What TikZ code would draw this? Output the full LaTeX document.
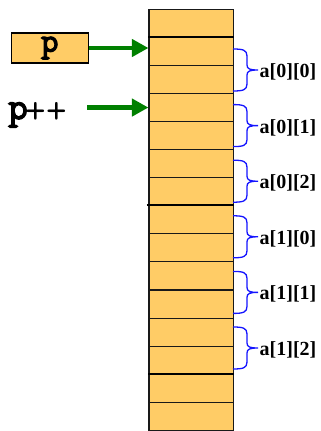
\documentclass[tikz,border=0pt]{standalone}
\usepackage{fontspec}
\setmainfont{Liberation Serif}
\newfontfamily\codefont{Latin Modern Mono}[AutoFakeBold=3.5]
\usetikzlibrary{arrows.meta}
\definecolor{cellfill}{RGB}{255,204,102}
\definecolor{ptrgreen}{RGB}{0,128,0}
\definecolor{bracecol}{RGB}{20,20,255}
\tikzset{
  cellbox/.style={draw=black!90, fill=cellfill, line width=1.1pt, inner sep=0pt,
    minimum width=84.3pt, minimum height=28.07pt},
  divider/.style={draw=black, line width=2.2pt},
  ptr/.style={draw=ptrgreen, line width=4.5pt,
    -{Triangle[length=16.5pt,width=17pt,fill=ptrgreen]}},
  bracestroke/.style={draw=bracecol, line width=1.3pt},
  lbl/.style={inner sep=0pt, font=\bfseries\fontsize{20}{20}\selectfont},
  code/.style={font=\codefont\bfseries\fontsize{34}{34}\selectfont},
}
% right curly brace from y0 to y1 against the column edge
\newcommand\drawrbrace[2]{%
  \pgfmathsetmacro\bm{(#1+#2)/2}%
  \draw[bracestroke] (233,#1) .. controls (243,#1) and (247,#1+1) .. (247,#1+7)
    -- (247,\bm-5) .. controls (247,\bm-1) and (250,\bm) .. (258,\bm)
    .. controls (250,\bm) and (247,\bm+1) .. (247,\bm+5)
    -- (247,#2-7) .. controls (247,#2-1) and (243,#2) .. (233,#2);}
\begin{document}
\begin{tikzpicture}[x=1pt,y=-1pt]
\useasboundingbox (0,0) rectangle (321,431);
% memory column
\foreach \k in {0,...,14}
  \node[cellbox] (c\k) at (191.15, {9.3+28.07*\k+14.035}) {};
\draw[divider] (c1.north west) -- (c1.north east);
\draw[divider] ([xshift=-1.5pt]c7.north west) -- (c7.north east);
\draw[divider] (c13.north west) -- (c13.north east);
% pointer variable
\node[draw=black, line width=1.2pt, fill=cellfill, minimum width=77pt,
  minimum height=30pt, inner sep=0pt, code] (pbox) at (49.7,48) {p};
\draw[ptr] (pbox.east) -- (c1.west |- pbox.east);
% incremented pointer
\node[anchor=base west, inner sep=0pt] (pp) at (8,119)
  {\codefont\bfseries\fontsize{38}{38}\selectfont p\mdseries\fontsize{40}{40}\selectfont
   \kern-2pt\raisebox{-4pt}{++}};
\coordinate (ppstart) at (87,0);
\draw[ptr] (ppstart |- c3.west) -- (c3.west);
% element braces and labels
\foreach \i/\j [count=\n from 0] in {0/0,0/1,0/2,1/0,1/1,1/2} {
  \pgfmathsetmacro\ytop{49+55.6*\n}
  \drawrbrace{\ytop}{\ytop+42}
  \node[lbl, anchor=base west] (a\i\j) at (259.5, {\ytop+21+7.5}) {a[\i][\j]};
}
\end{tikzpicture}
\end{document}
